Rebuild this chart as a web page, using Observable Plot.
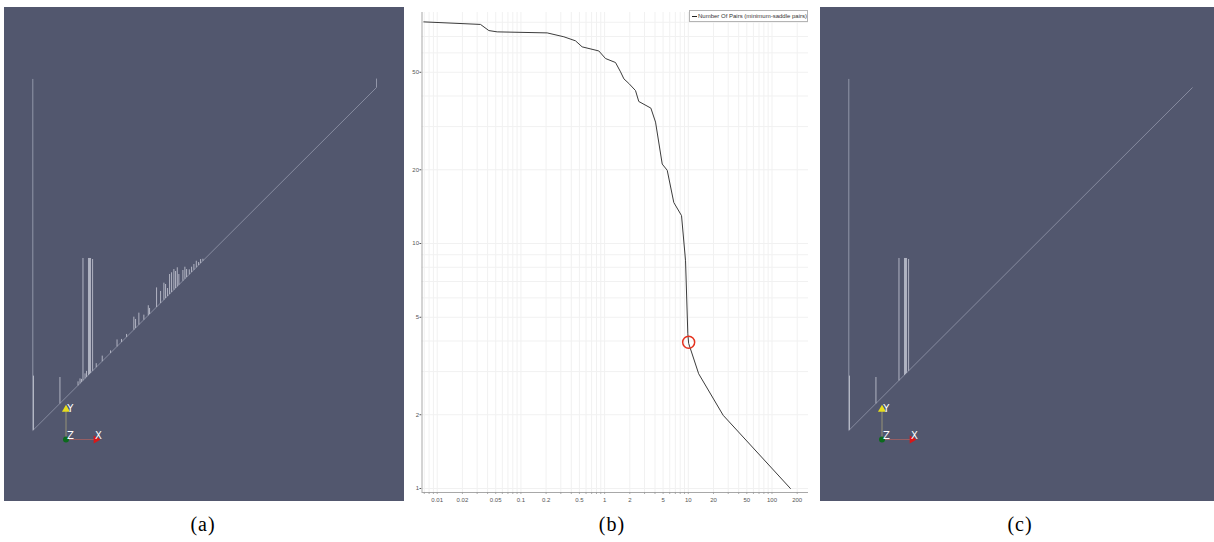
<!DOCTYPE html>
<html><head><meta charset="utf-8">
<script src="https://cdn.jsdelivr.net/npm/d3@7"></script>
<script src="https://cdn.jsdelivr.net/npm/@observablehq/plot@0.6"></script>
<style>
html,body{margin:0;padding:0;background:#fff;}
#root{position:relative;width:1214px;height:542px;overflow:hidden;}
.panel{position:absolute;}
.cap{position:absolute;top:513px;font-family:"Liberation Serif","DejaVu Serif",serif;font-size:20px;letter-spacing:1px;color:#000;transform:translateX(-50%);}
#legend{position:absolute;left:689px;top:10px;width:117px;height:10px;border:1px solid #b4b4b4;background:#fff;
 font-family:"Liberation Sans",Arial,sans-serif;font-size:6px;line-height:10px;color:#333;white-space:nowrap;overflow:hidden;}
#legend span.sw{display:inline-block;width:5px;height:0;border-top:1px solid #222;vertical-align:middle;margin:0 1px 0 2px;}
</style></head>
<body><div id="root">
<div class="panel" id="pa" style="left:4px;top:7px;"></div>
<div class="panel" id="pb" style="left:408px;top:0px;"></div>
<div class="panel" id="pc" style="left:820px;top:7px;"></div>
<div id="legend"><span class="sw"></span><span id="legtext"></span></div>
<div class="cap" style="left:203px;">(a)</div>
<div class="cap" style="left:612px;">(b)</div>
<div class="cap" style="left:1020px;">(c)</div>
</div>
<script>
// ---------- Panel (a): persistence diagram, all pairs (normalized scalar units) ----------
const aBirths = [0, 1.0, 0.002, 0.079, 0.146, 0.162, 0.165, 0.168, 0.174,
  0.1316, 0.1374, 0.1418, 0.1520, 0.1563, 0.1846, 0.2020, 0.2262, 0.2451, 0.2582, 0.2728,
  0.2940, 0.2990, 0.3086, 0.3231, 0.3360, 0.3397, 0.3601, 0.3718, 0.3814, 0.3863, 0.3921,
  0.3980, 0.4038, 0.4105, 0.4154, 0.4204, 0.4250, 0.4367, 0.4425, 0.4475, 0.4553, 0.4620,
  0.4687, 0.4757, 0.4824, 0.4882, 0.4949];
const aDeaths = [1.025, 1.026, 0.160, 0.156, 0.503, 0.503, 0.503, 0.503, 0.500,
  0.1433, 0.1520, 0.1505, 0.1666, 0.1738, 0.1963, 0.2183, 0.2335, 0.2655, 0.2669, 0.2815,
  0.3319, 0.3252, 0.3436, 0.3377, 0.3652, 0.3572, 0.4172, 0.4068, 0.4310, 0.4271, 0.4154,
  0.4563, 0.4612, 0.4708, 0.4650, 0.4758, 0.4562, 0.4679, 0.4775, 0.4708, 0.4699, 0.4775,
  0.4853, 0.4949, 0.4911, 0.4999, 0.5007];
// ---------- Panel (c): persistence diagram after simplification ----------
const cBirths = [0, 0.002, 0.079, 0.146, 0.162, 0.165, 0.168, 0.174];
const cDeaths = [1.025, 0.160, 0.156, 0.503, 0.503, 0.503, 0.503, 0.500];
const diagonalEnds = [0, 1];
// orientation glyph (scene units)
const glyphOrigin = [0.0966, -0.0262];
const glyphYTip = [0.0966, 0.0612];
const glyphXTip = [0.184, -0.0262];
const glyphLabels = ["Y", "Z", "X"];
const glyphLabelB = [0.109, 0.1097, 0.191];
const glyphLabelD = [0.0627, -0.0146, -0.016];

// ---------- Panel (b): number of pairs vs persistence threshold ----------
const curveX = [0.00692, 0.0329, 0.0414, 0.0521, 0.206, 0.326, 0.449, 0.539, 0.853, 1.025,
  1.35, 1.55, 1.70, 1.95, 2.34, 2.56, 3.57, 4.06, 4.88, 5.60, 6.71, 8.30, 9.27, 9.87, 10.1,
  13.3, 26.1, 166];
const curveY = [80.3, 78.4, 74.0, 73.1, 72.4, 69.8, 67.2, 63.5, 61.1, 56.9,
  54.8, 50.2, 47.0, 45.0, 42.1, 38.0, 35.7, 31.3, 21.1, 19.9, 14.7, 13.0, 8.5, 4.28, 3.91,
  2.94, 1.99, 1.0];
const markerX = [10.1];
const markerY = [3.95];
const xTickLabels = ["0.01","0.02","0.05","0.1","0.2","0.5","1","2","5","10","20","50","100","200"];
const yTickLabels = ["1","2","5","10","20","50"];
const legendLabel = "Number Of Pairs (minimum-saddle pairs)";

const BG = "#52576e";
function diagram(births, deaths, width) {
  const pairs = births.map((b, i) => ({b, d: deaths[i]}));
  const bigPairs = pairs.filter(p => p.d > 1);
  const otherPairs = pairs.filter(p => p.d <= 1);
  const diag = [{x1: diagonalEnds[0], y1: diagonalEnds[0], x2: diagonalEnds[1], y2: diagonalEnds[1]}];
  const gl = glyphLabels.map((t, i) => ({t, b: glyphLabelB[i], d: glyphLabelD[i]}));
  return Plot.plot({
    width, height: 494,
    marginLeft: 28.3, marginRight: width - 372, marginTop: 80, marginBottom: 71,
    x: {domain: [0, 1], axis: null},
    y: {domain: [0, 1], axis: null},
    style: {background: BG, overflow: "visible"},
    marks: [
      Plot.link(diag, {x1: "x1", y1: "y1", x2: "x2", y2: "y2", stroke: "#8c91a5", strokeWidth: 0.9}),
      Plot.link(bigPairs, {x1: "b", y1: "b", x2: "b", y2: "d", stroke: "#9296a9", strokeWidth: 1}),
      Plot.link(otherPairs, {x1: "b", y1: "b", x2: "b", y2: "d", stroke: "#c9ccd8", strokeWidth: 0.8}),
      Plot.link([0], {x1: () => glyphOrigin[0], y1: () => glyphOrigin[1], x2: () => glyphYTip[0], y2: () => glyphYTip[1], stroke: "#a8a27a", strokeWidth: 0.8}),
      Plot.link([0], {x1: () => glyphOrigin[0], y1: () => glyphOrigin[1], x2: () => glyphXTip[0], y2: () => glyphXTip[1], stroke: "#a86060", strokeWidth: 0.8}),
      Plot.dot([0], {x: () => glyphYTip[0], y: () => glyphYTip[1], symbol: "triangle", r: 3, fill: "#e6dc1e", stroke: "none"}),
      Plot.dot([0], {x: () => glyphXTip[0], y: () => glyphXTip[1], symbol: "triangle", rotate: 90, r: 3, fill: "#d81818", stroke: "none"}),
      Plot.dot([0], {x: () => glyphOrigin[0], y: () => glyphOrigin[1], r: 3, fill: "#0c6a1c", stroke: "none"}),
      Plot.text(gl, {x: "b", y: "d", text: "t", fill: "#ffffff", fontSize: 10, fontFamily: "DejaVu Sans, sans-serif"})
    ]
  });
}
document.getElementById("pa").append(diagram(aBirths, aDeaths, 400));
document.getElementById("pc").append(diagram(cBirths, cDeaths, 394));

// panel (b)
const curve = curveX.map((x, i) => ({x, y: curveY[i]}));
const xMajor = xTickLabels.map(Number);
const yMajor = yTickLabels.map(Number);
const gridX = [], gridY = [];
for (const dec of [0.001, 0.01, 0.1, 1, 10, 100]) for (let k = 1; k <= 9; k++) gridX.push(+(k * dec).toPrecision(3));
for (const dec of [1, 10]) for (let k = 1; k <= 9; k++) gridY.push(k * dec);
const xDom = [0.00658, 273], yDom = [0.963, 87.7];
const gx = gridX.filter(v => v >= xDom[0] && v <= xDom[1]);
const gy = gridY.filter(v => v >= yDom[0] && v <= yDom[1]);
const tickBottom = 0.945; // just below the axis, for tick marks
const pb = Plot.plot({
  width: 404, height: 510,
  marginLeft: 13.5, marginRight: 4, marginTop: 12, marginBottom: 18,
  x: {type: "log", domain: xDom, axis: null},
  y: {type: "log", domain: yDom, ticks: yMajor, tickSize: 2, tickPadding: 1, label: null,
      tickFormat: v => yTickLabels[yMajor.indexOf(v)]},
  style: {fontSize: "6px", fontFamily: "Liberation Sans, Arial, sans-serif", color: "#555", background: "transparent"},
  marks: [
    Plot.ruleX(gx, {stroke: "#f1f1f1", strokeWidth: 1}),
    Plot.ruleY(gy, {stroke: "#f1f1f1", strokeWidth: 1}),
    Plot.ruleX([xDom[0]], {stroke: "#a8a8a8"}),
    Plot.ruleY([yDom[0]], {stroke: "#a8a8a8"}),
    Plot.ruleX(gx, {y1: yDom[0], y2: tickBottom, stroke: "#999", strokeWidth: 0.8}),
    Plot.text(xTickLabels, {x: d => +d, y: yDom[0], text: d => d, dy: 8, fill: "#555", fontSize: 6}),
    Plot.line(curve, {x: "x", y: "y", stroke: "#3c3c3c", strokeWidth: 1}),
    Plot.dot(markerX.map((x, i) => ({x, y: markerY[i]})), {x: "x", y: "y", r: 6, stroke: "#e5321e", strokeWidth: 1.5, fill: "none"})
  ]
});
document.getElementById("pb").append(pb);
document.getElementById("legtext").textContent = legendLabel;
</script>
</body></html>
